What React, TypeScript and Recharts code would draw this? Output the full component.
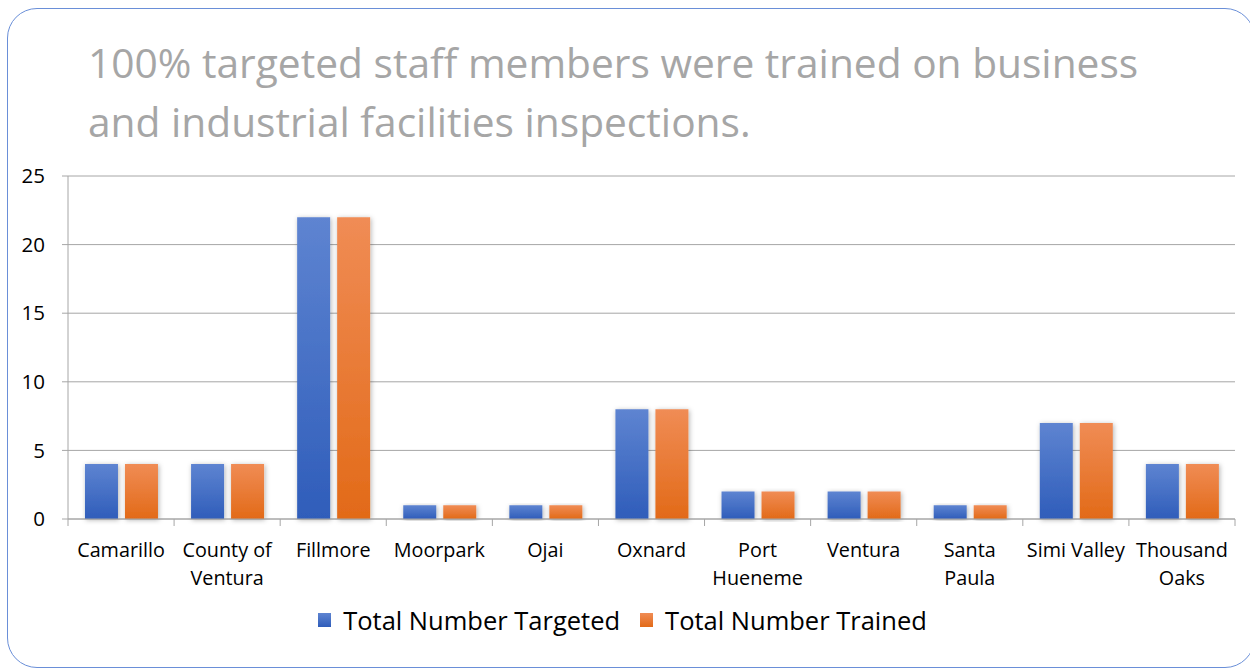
import { BarChart, Bar, XAxis, YAxis, CartesianGrid } from "recharts";

const cities = [
  "Camarillo",
  "County of\nVentura",
  "Fillmore",
  "Moorpark",
  "Ojai",
  "Oxnard",
  "Port\nHueneme",
  "Ventura",
  "Santa\nPaula",
  "Simi Valley",
  "Thousand\nOaks",
];
const targeted = [4, 4, 22, 1, 1, 8, 2, 2, 1, 7, 4];
const trained = [4, 4, 22, 1, 1, 8, 2, 2, 1, 7, 4];
const yTicks = [0, 5, 10, 15, 20, 25];
const titleLines = [
  "100% targeted staff members were trained on business",
  "and industrial facilities inspections.",
];
const series = [
  { key: "targeted", name: "Total Number Targeted", top: "#5E84D1", bottom: "#2F5DBA" },
  { key: "trained", name: "Total Number Trained", top: "#F08C55", bottom: "#E26A18" },
];

const data = cities.map((city, i) => ({
  city,
  targeted: targeted[i],
  trained: trained[i],
}));

const FONT = "'Open Sans', sans-serif";

function CityTick(props: any) {
  const { x, y, payload, index } = props;
  const half = payload?.offset ?? 53;
  const lines = String(payload.value).split("\n");
  return (
    <g>
      <line x1={x - half} y1={y - 8} x2={x - half} y2={y - 1} stroke="#A6A6A6" />
      {index === cities.length - 1 && (
        <line x1={x + half} y1={y - 8} x2={x + half} y2={y - 1} stroke="#A6A6A6" />
      )}
      <text x={x} y={y + 30} textAnchor="middle" fontSize={19.8} fill="#000" fontFamily={FONT}>
        {lines.map((l, i) => (
          <tspan key={i} x={x} dy={i === 0 ? 0 : 28}>
            {l}
          </tspan>
        ))}
      </text>
    </g>
  );
}

export default function App() {
  return (
    <div style={{ position: "absolute", left: 0, top: 0, width: 1250, height: 671, background: "#fff", overflow: "hidden", fontFamily: FONT }}>
      <div
        style={{
          position: "absolute",
          left: 7,
          top: 8,
          width: 1248,
          height: 660,
          border: "1px solid #6A8FD8",
          borderRadius: 30,
          boxSizing: "border-box",
        }}
      />
      <div style={{ position: "absolute", left: 88, top: 33, color: "#A6A6A6", fontSize: 40.7, lineHeight: "59px", whiteSpace: "nowrap" }}>
        {titleLines.map((t) => (
          <div key={t}>{t}</div>
        ))}
      </div>
      <div style={{ position: "absolute", left: 0, top: 0 }}>
        <BarChart
          width={1250}
          height={671}
          data={data}
          margin={{ top: 176, right: 15, left: 0, bottom: 72 }}
          barCategoryGap="16%"
          barGap={7}
        >
          <defs>
            {series.map((s) => (
              <linearGradient key={s.key} id={`grad-${s.key}`} x1="0" y1="0" x2="0" y2="1">
                <stop offset="0%" stopColor={s.top} />
                <stop offset="100%" stopColor={s.bottom} />
              </linearGradient>
            ))}
            <filter id="barShadow" x="-30%" y="-10%" width="160%" height="120%">
              <feDropShadow dx="1" dy="1" stdDeviation="2.5" floodColor="#000" floodOpacity="0.3" />
            </filter>
          </defs>
          <CartesianGrid vertical={false} stroke="#A6A6A6" />
          <XAxis
            dataKey="city"
            interval={0}
            height={80}
            tickLine={false}
            axisLine={{ stroke: "#A6A6A6" }}
            tick={<CityTick />}
          />
          <YAxis
            width={68}
            domain={[0, 25]}
            ticks={yTicks}
            tickSize={6}
            tickMargin={17}
            tickLine={{ stroke: "#A6A6A6" }}
            axisLine={{ stroke: "#A6A6A6" }}
            tick={{ fontSize: 20.5, fill: "#000", fontFamily: FONT }}
          />
          {series.map((s) => (
            <Bar
              key={s.key}
              dataKey={s.key}
              name={s.name}
              fill={`url(#grad-${s.key})`}
              filter="url(#barShadow)"
              isAnimationActive={false}
            />
          ))}
        </BarChart>
      </div>
      <div
        style={{
          position: "absolute",
          top: 603,
          left: 0,
          width: 1250,
          display: "flex",
          justifyContent: "center",
          alignItems: "center",
          fontSize: 25.5,
          color: "#000",
          paddingRight: 5,
          boxSizing: "border-box",
        }}
      >
        {series.map((s, i) => (
          <div key={s.key} style={{ display: "flex", alignItems: "center", marginRight: i === 0 ? 20 : 0 }}>
            <div
              style={{
                width: 13,
                height: 14,
                marginRight: 12,
                background: `linear-gradient(${s.top}, ${s.bottom})`,
              }}
            />
            <span>{s.name}</span>
          </div>
        ))}
      </div>
    </div>
  );
}
